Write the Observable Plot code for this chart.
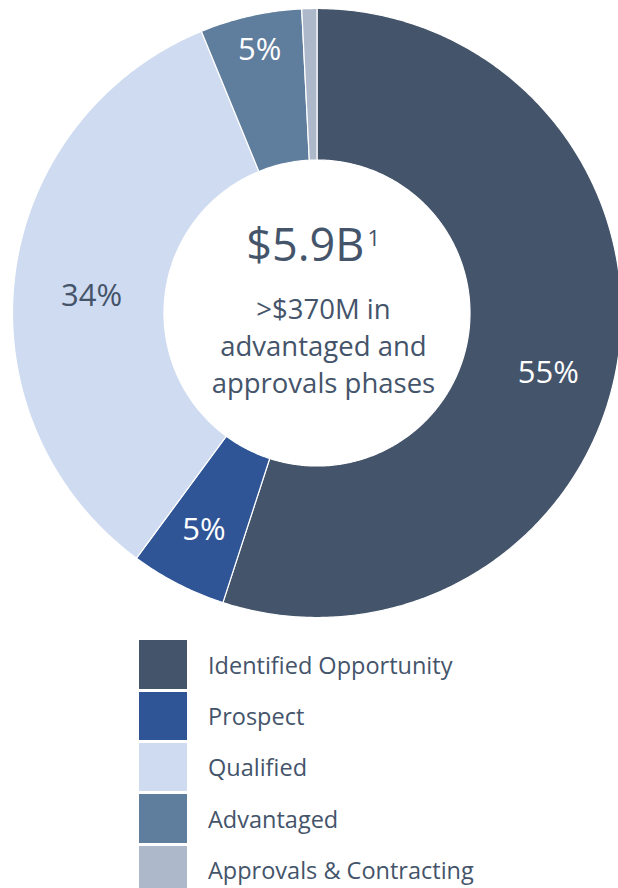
<!DOCTYPE html>
<html><head><meta charset="utf-8">
<script src="https://cdn.jsdelivr.net/npm/d3@7"></script>
<script src="https://cdn.jsdelivr.net/npm/@observablehq/plot@0.6"></script>
<style>
html,body{margin:0;padding:0;background:#fff;overflow:hidden;width:618px;height:888px;}
body{font-family:"Open Sans",sans-serif;color:#44546A;position:relative;}
#chart svg{overflow:hidden;display:block;}
#legend{position:absolute;left:139px;top:639px;}
.row{display:flex;align-items:center;height:51.3px;}
.sw{width:48px;height:48.5px;margin-right:21px;flex:none;}
.lab{font-size:23.5px;white-space:nowrap;}
</style></head><body><div id="chart"></div><div id="legend"></div>
<script>
// ---- data ----
const categories = ["Identified Opportunity", "Prospect", "Qualified", "Advantaged", "Approvals & Contracting"];
const shares = [55.0, 5.1, 33.7, 5.4, 0.8];
const colors = ["#44546A", "#2F5597", "#CFDBF0", "#5F7D9C", "#ADB9CA"];
const labelInk = ["#ffffff", "#ffffff", "#44546A", "#ffffff", null];
const centerTitle = "$5.9B";
const centerNote = "1";
const centerLines = [">$370M in", "advantaged and", "approvals phases"];

// ---- layout ----
const W = 618, H = 630, cx = 316.5, cy = 312.5, R = 304.5, R0 = 153;
const labelRadius = [239, 245, 226, 269];
const labelTurn = [5.5, 0.3, -2.8, 0.3]; // degrees

const rows = categories.map((name, i) => ({name, share: shares[i], i}));
const arcs = d3.pie().sort(null).value(d => d.share)(rows);

const pts = [];
for (const a of arcs) {
  const n = Math.max(2, Math.ceil((a.endAngle - a.startAngle) / (Math.PI / 360)));
  const ring = [];
  for (let k = 0; k <= n; k++) {
    const t = a.startAngle + (a.endAngle - a.startAngle) * k / n;
    ring.push({name: a.data.name, x: R * Math.sin(t), y: R * Math.cos(t)});
  }
  for (let k = n; k >= 0; k--) {
    const t = a.startAngle + (a.endAngle - a.startAngle) * k / n;
    ring.push({name: a.data.name, x: R0 * Math.sin(t), y: R0 * Math.cos(t)});
  }
  ring.push({...ring[0]});
  pts.push(...ring);
}

const labels = arcs.filter(a => labelInk[a.data.i]).map(a => {
  const i = a.data.i;
  const t = (a.startAngle + a.endAngle) / 2 + labelTurn[i] * Math.PI / 180;
  return {text: Math.round(a.data.share) + "%", ink: labelInk[i],
          x: labelRadius[i] * Math.sin(t), y: labelRadius[i] * Math.cos(t)};
});

const ink = "#44546A";
const chart = Plot.plot({
  width: W, height: H, margin: 0,
  style: {fontFamily: "Open Sans, sans-serif", background: "white", overflow: "hidden"},
  x: {domain: [-cx, W - cx], axis: null},
  y: {domain: [cy - H, cy], axis: null},
  color: {domain: categories, range: colors},
  marks: [
    Plot.line(pts, {x: "x", y: "y", z: "name", fill: "name", stroke: "white", strokeWidth: 1.2, curve: "linear"}),
    Plot.text(labels.filter(d => d.ink === "#ffffff"), {x: "x", y: "y", text: "text", fill: "#ffffff", fontSize: 31}),
    Plot.text(labels.filter(d => d.ink !== "#ffffff"), {x: "x", y: "y", text: "text", fill: ink, fontSize: 31}),
    Plot.text([centerTitle], {x: R0 * 0.31, y: R0 * 0.343, text: d => d, textAnchor: "end", lineAnchor: "bottom", fill: ink, fontSize: 45}),
    Plot.text([centerNote], {x: R0 * 0.33, y: R0 * 0.435, text: d => d, textAnchor: "start", lineAnchor: "bottom", fill: ink, fontSize: 22}),
    Plot.text(centerLines, {x: R0 * 0.042, y: (d, i) => -5.5 - i * 37, text: d => d, lineAnchor: "bottom", fill: ink, fontSize: 27.5})
  ]
});
document.getElementById("chart").append(chart);

const legend = document.getElementById("legend");
categories.forEach((name, i) => {
  const row = document.createElement("div");
  row.className = "row";
  const sw = document.createElement("div");
  sw.className = "sw";
  sw.style.background = colors[i];
  const lab = document.createElement("div");
  lab.className = "lab";
  lab.textContent = name;
  row.append(sw, lab);
  legend.append(row);
});
</script></body></html>
